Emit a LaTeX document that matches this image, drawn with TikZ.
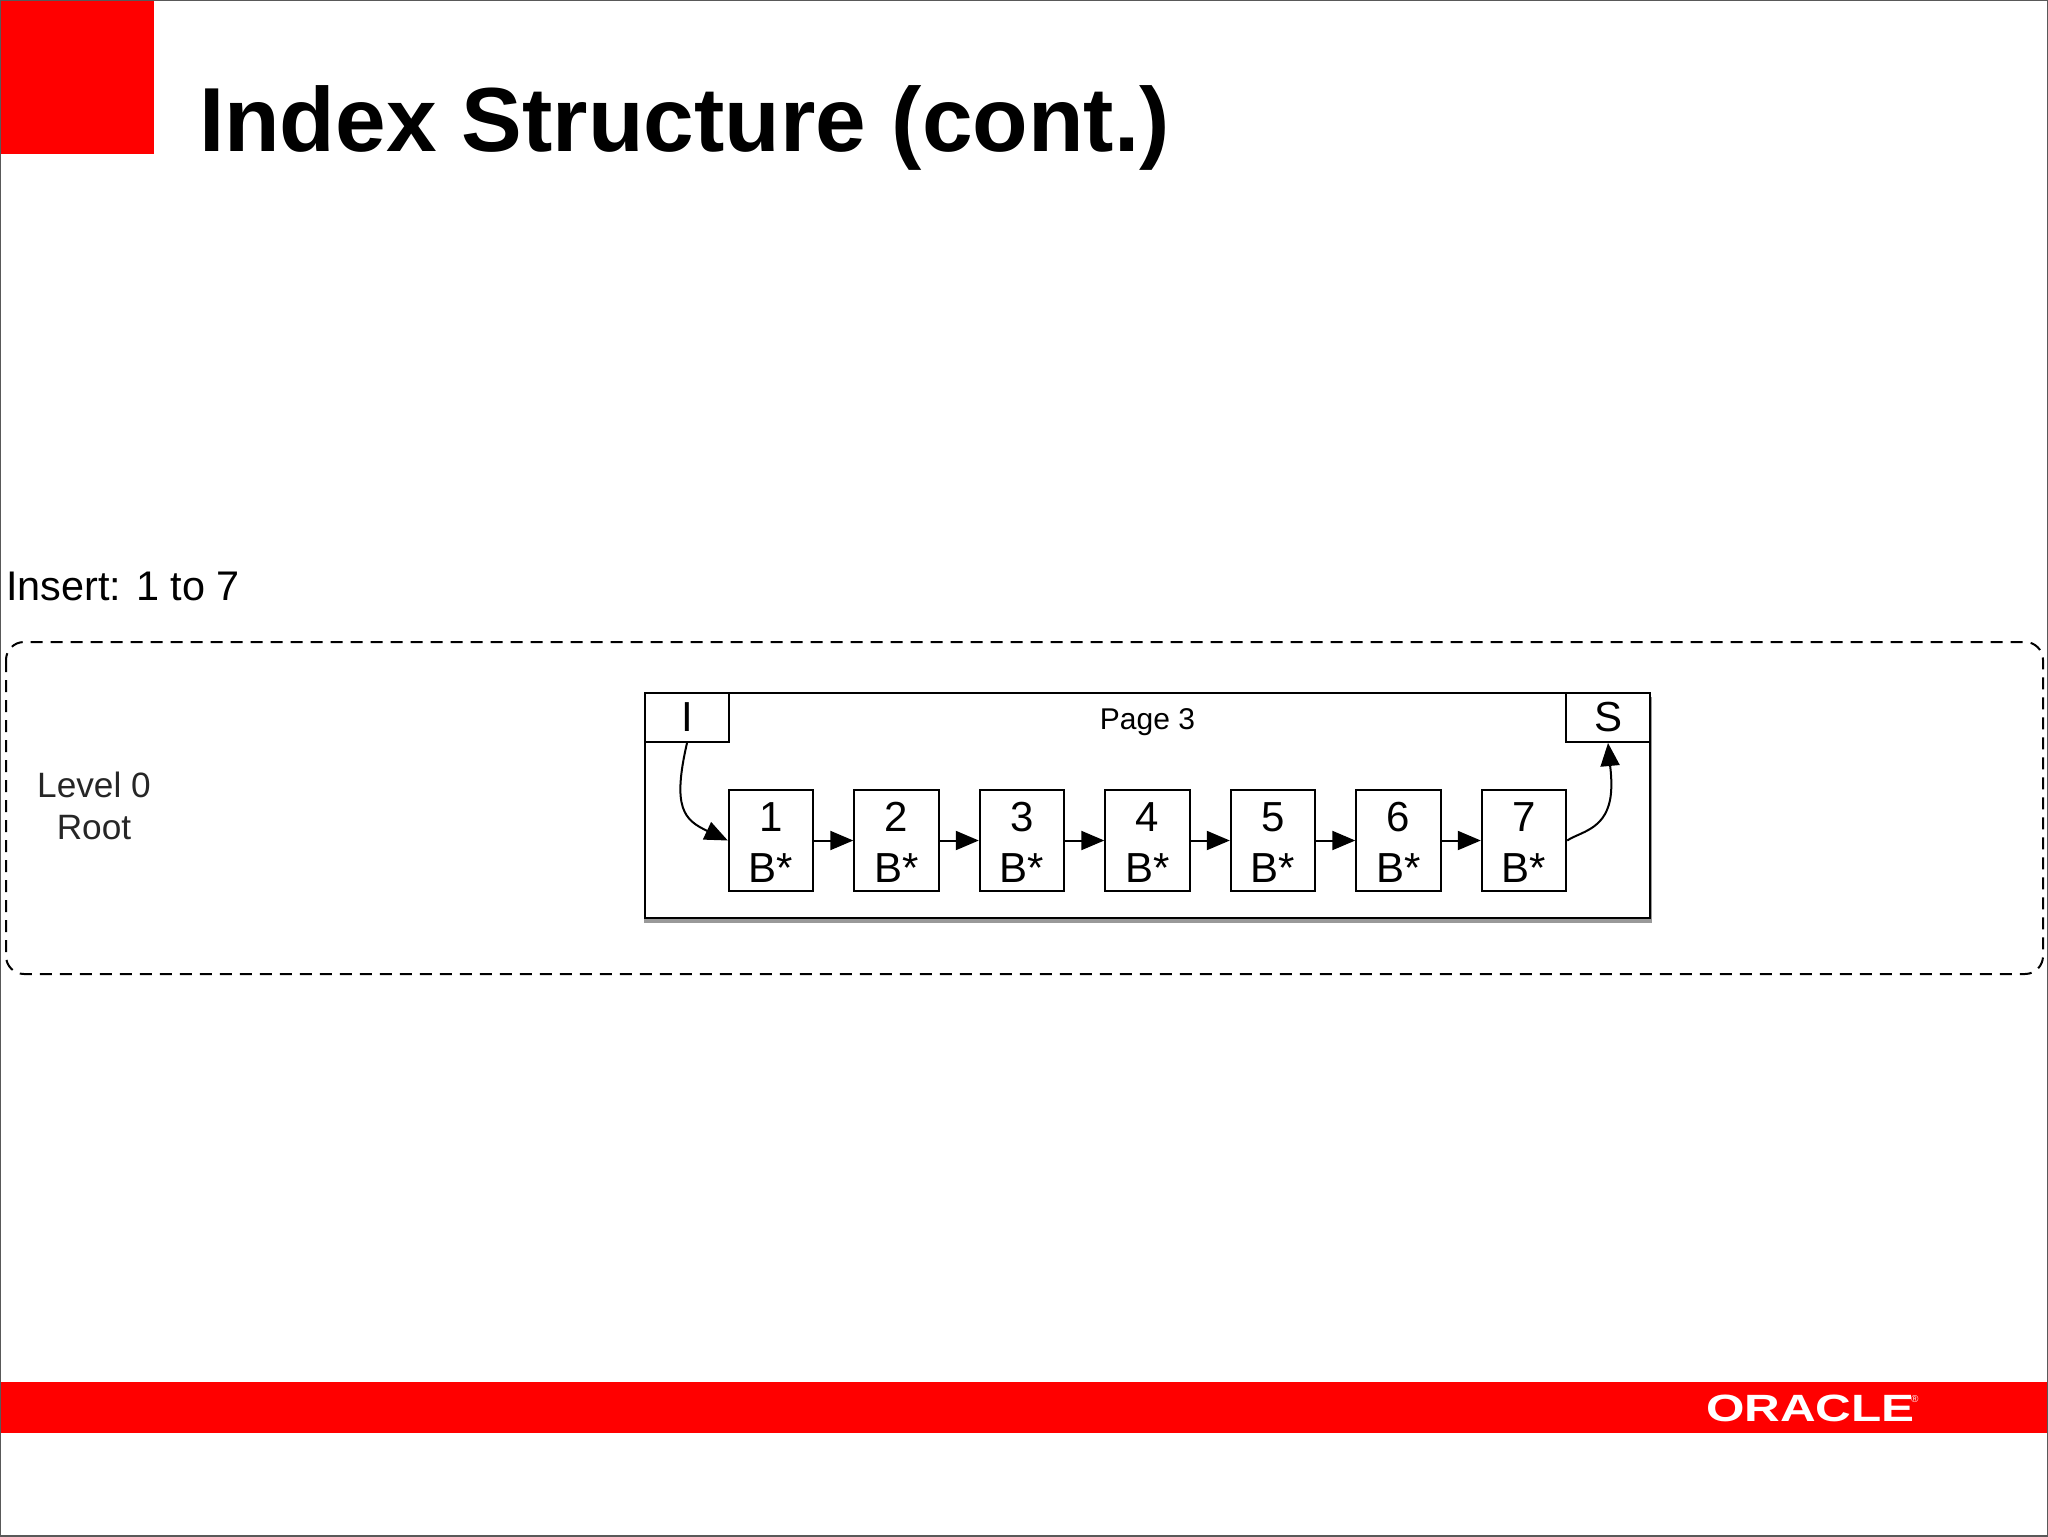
\documentclass[tikz,border=0pt]{standalone}
\usepackage{fontspec}
\setmainfont{Liberation Sans}
\newfontfamily\logofont[FakeStretch=1.3]{Liberation Sans}
\usetikzlibrary{arrows.meta,shadows}
\tikzset{
    plaintext/.style={inner sep=0pt,outer sep=0pt,anchor=base},
    pagebox/.style={draw,line width=1.3pt,fill=white,inner sep=0pt,minimum width=502.5pt,minimum height=112.5pt,
        drop shadow={shadow xshift=0.3pt,shadow yshift=-2.2pt,shadow scale=1.003,fill=black,opacity=0.4}},
    slotbox/.style={draw,line width=1pt,fill=white,inner sep=0pt,minimum width=42pt,minimum height=24.5pt,font=\fontsize{21}{25}\selectfont},
    itembox/.style={draw,line width=1pt,fill=white,inner sep=0pt,minimum width=42.2pt,minimum height=50.5pt,align=center,font=\fontsize{21}{25.5}\selectfont},
    link/.style={line width=1pt,-{Triangle[length=11.5pt,width=9.5pt]}}
}
\begin{document}
\begin{tikzpicture}[x=0.5pt,y=-0.5pt]
    \useasboundingbox (0,0) rectangle (2048,1536);
    \fill[red] (0,0) rectangle (154,154);
    \fill[red] (0,1382) rectangle (2048,1433);
    \node[plaintext,anchor=base west,font=\fontsize{45.5}{50}\selectfont\bfseries] (title) at (199,151) {Index Structure (cont.)};
    \node[plaintext,anchor=base west,font=\fontsize{20.7}{25}\selectfont] (insert) at (6,600) {Insert: 1 to 7};
    \draw[line width=1pt,rounded corners=9pt,dash pattern=on 6pt off 4pt] (6,642) rectangle (2043,974);
    \node[plaintext,align=center,font=\fontsize{17.6}{21}\selectfont,text=black!85] (level) at (94,839) {Level 0\\Root};
    \node[pagebox] (page) at (1147.5,805.5) {};
    \node[slotbox] (first) at (687,717.5) {I};
    \node[slotbox] (last) at (1608,717.5) {S};
    \node[plaintext,font=\fontsize{15}{18}\selectfont] (pagename) at (1147.5,729) {Page 3};
    \foreach \n in {1,...,7} {
        \node[itembox] (item\n) at ({771+125.5*(\n-1)},840.5) {\rule{0pt}{16.5pt}\n\\B*};
    }
    \foreach \n [remember=\n as \p (initially 1)] in {2,...,7} {
        \draw[link] (item\p) -- (item\n);
    }
    \draw[link] (first.south) .. controls (672,808) and (684,820) .. (item1.west);
    \draw[link] (item7.east) .. controls (1580,832) and (1604,830) .. (1610,800) .. controls (1613,785) and (1610,765) .. (last.south);
    \node[plaintext,anchor=base west,text=white,font=\fontsize{19}{22}\selectfont\logofont\bfseries] (oracle) at (1706,1421) {ORACLE};
    \node[plaintext,anchor=base west,text=white,font=\fontsize{5}{6}\selectfont] (mark) at (1911,1402) {®};
    \draw[black!65,line width=1pt] (0,0) rectangle (2048,1536);
\end{tikzpicture}
\end{document}
